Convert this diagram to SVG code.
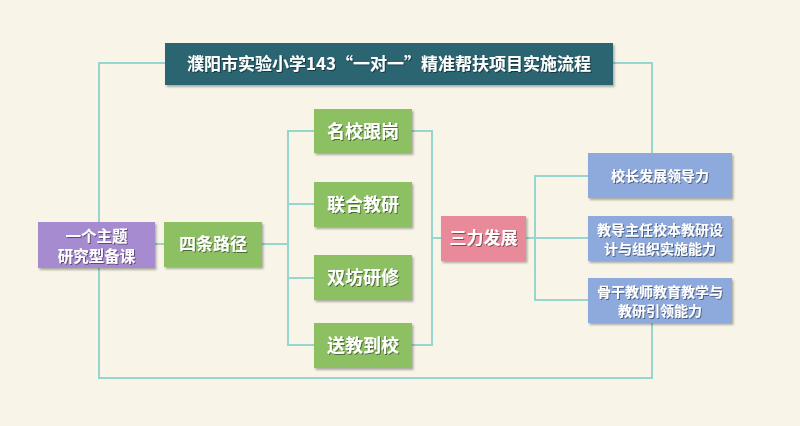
<svg xmlns="http://www.w3.org/2000/svg" width="800" height="426" viewBox="0 0 800 426">
<defs>
<filter id="bs" x="-10%" y="-10%" width="125%" height="130%"><feDropShadow dx="1.5" dy="2" stdDeviation="1.2" flood-color="#000" flood-opacity="0.3"/></filter>
<filter id="ts" x="-10%" y="-20%" width="120%" height="150%"><feDropShadow dx="1" dy="1" stdDeviation="0.6" flood-color="#000" flood-opacity="0.45"/></filter>
<style>
.ln{fill:none;stroke:#97d6cf;stroke-width:2}
.t{font-family:"Noto Sans CJK SC","Noto Sans",sans-serif;font-weight:bold;fill:#fff;text-anchor:middle;filter:url(#ts)}
.title{fill:#2b6571}
.green{fill:#8cc063}
.purple{fill:#a78bd0}
.pink{fill:#e98a9a}
.blue{fill:#8eaadc}
</style>
</defs>
<rect x="0" y="0" width="800" height="426" fill="#f8f5e8"/>
<g id="connectors">
<polyline class="ln" points="165,63 99,63 99,378 652,378 652,323"/>
<polyline class="ln" points="612,63 652,63 652,153"/>
<line class="ln" x1="155" y1="244" x2="164" y2="244"/>
<line class="ln" x1="262" y1="244" x2="288" y2="244"/>
<polyline class="ln" points="314,131 288,131 288,345 314,345"/>
<line class="ln" x1="288" y1="204" x2="314" y2="204"/>
<line class="ln" x1="288" y1="278" x2="314" y2="278"/>
<polyline class="ln" points="412,131 432,131 432,345 412,345"/>
<line class="ln" x1="432" y1="238" x2="441" y2="238"/>
<line class="ln" x1="526" y1="238" x2="588" y2="238"/>
<polyline class="ln" points="588,176 535,176 535,300 588,300"/>
</g>
<g id="title">
<rect class="title" x="165" y="43" width="448" height="42" filter="url(#bs)"/>
<text class="t" x="389" y="70" font-size="17">濮阳市实验小学143“一对一”精准帮扶项目实施流程</text>
</g>
<g id="topic">
<rect class="purple" x="38" y="222" width="117" height="46" filter="url(#bs)"/>
<text class="t" x="96.5" y="241.5" font-size="15.5">一个主题</text>
<text class="t" x="96.5" y="261.5" font-size="15.5">研究型备课</text>
</g>
<g id="paths">
<rect class="green" x="164" y="222" width="98" height="45" filter="url(#bs)"/>
<text class="t" x="213" y="250" font-size="17">四条路径</text>
</g>
<g id="p1">
<rect class="green" x="314" y="109" width="98" height="44" filter="url(#bs)"/>
<text class="t" x="363" y="137.5" font-size="18">名校跟岗</text>
</g>
<g id="p2">
<rect class="green" x="314" y="182" width="98" height="45" filter="url(#bs)"/>
<text class="t" x="363" y="210.5" font-size="18">联合教研</text>
</g>
<g id="p3">
<rect class="green" x="314" y="255" width="98" height="45" filter="url(#bs)"/>
<text class="t" x="363" y="283.5" font-size="18">双坊研修</text>
</g>
<g id="p4">
<rect class="green" x="314" y="323" width="98" height="45" filter="url(#bs)"/>
<text class="t" x="363" y="351.5" font-size="18">送教到校</text>
</g>
<g id="three">
<rect class="pink" x="441" y="216" width="85" height="45" filter="url(#bs)"/>
<text class="t" x="483.5" y="244" font-size="17">三力发展</text>
</g>
<g id="b1">
<rect class="blue" x="588" y="153" width="144" height="45" filter="url(#bs)"/>
<text class="t" x="660" y="181" font-size="14">校长发展领导力</text>
</g>
<g id="b2">
<rect class="blue" x="588" y="216" width="144" height="45" filter="url(#bs)"/>
<text class="t" x="660" y="235" font-size="14">教导主任校本教研设</text>
<text class="t" x="660" y="254" font-size="14">计与组织实施能力</text>
</g>
<g id="b3">
<rect class="blue" x="588" y="278" width="144" height="45" filter="url(#bs)"/>
<text class="t" x="660" y="297" font-size="14">骨干教师教育教学与</text>
<text class="t" x="660" y="316" font-size="14">教研引领能力</text>
</g>
</svg>
